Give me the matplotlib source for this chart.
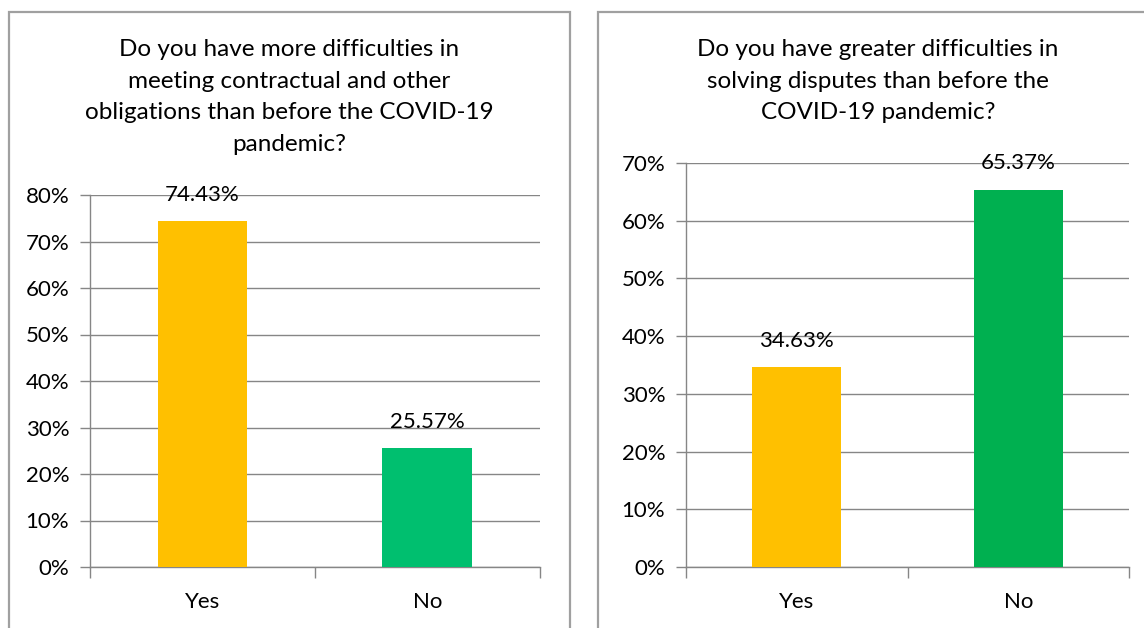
import matplotlib
matplotlib.use("Agg")
import matplotlib.pyplot as plt
from matplotlib.patches import Rectangle
from matplotlib.ticker import MultipleLocator, FuncFormatter

plt.rcParams['font.family'] = ['Lato', 'DejaVu Sans']

categories = ["Yes", "No"]
obligations_pct = [74.43, 25.57]
disputes_pct = [34.63, 65.37]
title_left = "Do you have more difficulties in\nmeeting contractual and other\nobligations than before the COVID-19\npandemic?"
title_right = "Do you have greater difficulties in\nsolving disputes than before the\nCOVID-19 pandemic?"

W, H = 1144, 628
fig = plt.figure(figsize=(W / 100, H / 100), dpi=100)

GRID = "#868686"
BORDER = "#A0A0A0"
FS = 16
TITLE_FS = 17.5


def fx(px):
    return px / W


def fy(py):
    return 1 - py / H


# panel frames
for x0, x1 in [(9, 570), (598, 1170)]:
    fig.patches.append(Rectangle((fx(x0), fy(640)), fx(x1 - x0), (640 - 12) / H,
                                 transform=fig.transFigure, fill=False,
                                 edgecolor=BORDER, linewidth=1.6, clip_on=False))


def panel(rect, values, colors, ymax, title, title_xy):
    ax = fig.add_axes(rect)
    x = [0.5, 1.5]
    ax.bar(x, values, width=0.4, color=colors, zorder=3)
    ax.set_xlim(0, 2)
    ax.set_ylim(0, ymax)
    ax.yaxis.set_major_locator(MultipleLocator(10))
    ax.yaxis.set_major_formatter(FuncFormatter(lambda v, p: f"{v:.0f}%"))
    ax.grid(axis="y", color=GRID, linewidth=1.0, zorder=0)
    ax.set_xticks([0, 1, 2])
    ax.set_xticklabels([])
    ax.set_xticks(x, minor=True)
    ax.set_xticklabels(categories, minor=True)
    ax.tick_params(axis="x", which="major", length=8, color=GRID, width=1.0)
    ax.tick_params(axis="x", which="minor", length=0, pad=18, labelsize=FS)
    ax.tick_params(axis="y", length=7, color=GRID, width=1.0, labelsize=FS, pad=8)
    for s in ["top", "right"]:
        ax.spines[s].set_visible(False)
    for s in ["left", "bottom"]:
        ax.spines[s].set_color(GRID)
        ax.spines[s].set_linewidth(1.0)
    for xi, v in zip(x, values):
        ax.annotate(f"{v:.2f}%", (xi, v), xytext=(0, 19), textcoords="offset points",
                    ha="center", va="center", fontsize=FS, zorder=4)
    fig.text(title_xy[0], title_xy[1], title, ha="center", va="center",
             fontsize=TITLE_FS, linespacing=1.62)
    return ax


panel([fx(90), fy(567), fx(540 - 90), (567 - 195) / H], obligations_pct,
      ["#FFC000", "#00BF6F"], 80, title_left, (fx(289), fy(97)))
panel([fx(686), fy(567), fx(1129 - 686), (567 - 163) / H], disputes_pct,
      ["#FFC000", "#00B050"], 70, title_right, (fx(878), fy(81)))

fig.savefig("out.png", dpi=100)
